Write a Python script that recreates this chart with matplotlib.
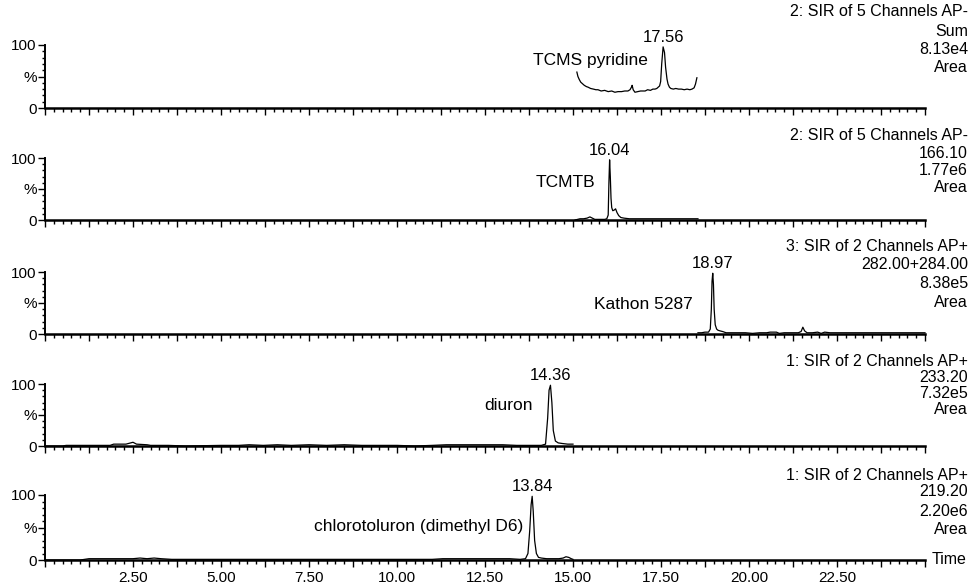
import matplotlib
matplotlib.use("Agg")
import matplotlib.pyplot as plt
from matplotlib.ticker import MultipleLocator, FixedLocator, FuncFormatter

plt.rcParams['font.family'] = ['Liberation Sans', 'DejaVu Sans']

# --- traces (time in min, intensity in %) ---
t_tcms = [15.11, 15.14, 15.18, 15.22, 15.26, 15.32, 15.38, 15.43, 15.50, 15.58,
          15.65, 15.71, 15.80, 15.90, 16.00, 16.10, 16.19, 16.28, 16.38, 16.47,
          16.56, 16.62, 16.66, 16.68, 16.71, 16.76, 16.84, 16.92, 17.00, 17.05,
          17.12, 17.20, 17.27, 17.33, 17.38, 17.42, 17.46, 17.49, 17.52, 17.56,
          17.60, 17.63, 17.67, 17.70, 17.74, 17.78, 17.85, 17.92, 18.00, 18.08,
          18.16, 18.24, 18.32, 18.38, 18.44, 18.48, 18.52]
i_tcms = [57, 50, 45, 41, 39, 36, 34, 33, 31, 30,
          29, 29, 27, 28, 26, 27, 25, 26, 26, 27,
          27, 29, 33, 36, 29, 25, 26, 27, 27, 27,
          29, 28, 30, 30, 31, 33, 35, 42, 70, 97,
          88, 65, 46, 38, 33, 31, 30, 31, 30, 30,
          29, 30, 29, 30, 32, 38, 48]

t_tcmtb = [15.06, 15.20, 15.30, 15.40, 15.48, 15.55, 15.62, 15.70, 15.80, 15.90,
           15.96, 16.00, 16.02, 16.04, 16.06, 16.08, 16.10, 16.13, 16.17, 16.21,
           16.25, 16.30, 16.36, 16.45, 16.60, 16.80, 17.00, 17.30, 17.60, 17.90,
           18.20, 18.55]
i_tcmtb = [0, 2, 2, 3, 5, 3, 1, 1, 1, 1,
           2, 8, 60, 97, 70, 35, 20, 15, 16, 18,
           12, 7, 4, 3, 2, 2, 2, 2, 2, 2,
           2, 2]

t_kathon = [18.55, 18.65, 18.75, 18.85, 18.90, 18.93, 18.95, 18.97, 18.99, 19.01,
            19.04, 19.08, 19.12, 19.18, 19.25, 19.35, 19.50, 19.70, 19.90, 20.10,
            20.30, 20.50, 20.60, 20.70, 20.78, 20.86, 21.00, 21.20, 21.40, 21.48,
            21.53, 21.58, 21.65, 21.80, 21.95, 22.05, 22.15, 22.30, 22.50, 23.00,
            23.50, 24.00, 24.50, 25.00]
i_kathon = [2, 2, 3, 3, 8, 40, 85, 98, 80, 40,
            15, 8, 6, 5, 4, 2, 2, 2, 2, 1,
            2, 2, 3, 3, 3, 1, 2, 2, 2, 4,
            11, 5, 2, 2, 3, 1, 3, 2, 2, 2,
            2, 2, 2, 2]

t_diuron = [0.00, 0.50, 0.60, 1.00, 1.50, 1.85, 1.95, 2.30, 2.50, 2.60,
            2.90, 3.00, 3.50, 4.00, 5.00, 5.50, 5.80, 6.20, 6.60, 7.00,
            7.50, 8.00, 8.50, 9.00, 9.50, 10.00, 10.50, 11.00, 11.40, 11.80,
            12.20, 12.60, 13.00, 13.40, 13.80, 14.10, 14.22, 14.28, 14.32, 14.36,
            14.40, 14.44, 14.50, 14.58, 14.70, 14.85, 15.00]
i_diuron = [0, 0, 1, 1, 1, 1, 3, 3, 6, 3,
            2, 1, 1, 0, 1, 1, 2, 1, 2, 1,
            2, 1, 2, 1, 1, 1, 0, 1, 2, 2,
            2, 2, 2, 1, 1, 1, 3, 45, 90, 98,
            70, 25, 8, 5, 4, 3, 3]

t_chloro = [0.00, 0.50, 1.00, 1.25, 1.50, 2.00, 2.50, 2.70, 2.90, 3.10,
            3.30, 3.60, 4.00, 5.00, 6.00, 7.00, 8.00, 9.00, 10.00, 10.50,
            11.00, 11.30, 11.70, 12.00, 12.40, 12.80, 13.20, 13.50, 13.65, 13.72,
            13.77, 13.81, 13.84, 13.87, 13.91, 13.96, 14.02, 14.10, 14.25, 14.45,
            14.60, 14.72, 14.80, 14.88, 14.95, 15.00]
i_chloro = [0, 0, 0, 2, 2, 2, 2, 3, 2, 3,
            2, 1, 1, 1, 1, 1, 1, 1, 1, 1,
            1, 2, 2, 2, 2, 2, 2, 1, 2, 10,
            45, 85, 98, 75, 30, 10, 4, 3, 2, 2,
            2, 3, 5, 4, 2, 1]

traces = [(t_tcms, i_tcms), (t_tcmtb, i_tcmtb), (t_kathon, i_kathon),
          (t_diuron, i_diuron), (t_chloro, i_chloro)]

peak_times = [17.56, 16.04, 18.97, 14.36, 13.84]
compounds = ["TCMS pyridine", "TCMTB", "Kathon 5287", "diuron",
             "chlorotoluron (dimethyl D6)"]
functions = ["2: SIR of 5 Channels AP-", "2: SIR of 5 Channels AP-",
             "3: SIR of 2 Channels AP+", "1: SIR of 2 Channels AP+",
             "1: SIR of 2 Channels AP+"]
masses = ["Sum", "166.10", "282.00+284.00", "233.20", "219.20"]
areas = ["8.13e4", "1.77e6", "8.38e5", "7.32e5", "2.20e6"]
time_labels = [2.5, 5.0, 7.5, 10.0, 12.5, 15.0, 17.5, 20.0, 22.5]

# --- layout (pixels of a 974x585 canvas) ---
W, H = 974, 585
panel_px = [(108, 45), (220, 158), (334, 272), (446, 384), (560, 495)]  # (0 level, 100 level)
header_px = [(12, 31, 50, 68), (135, 153, 170, 187), (246, 265, 283, 302),
             (362, 378, 394, 410), (475, 492, 511, 529)]
name_pos = [(17.13, 0.76), (15.63, 0.60), (18.41, 0.47), (13.86, 0.66), (13.58, 0.51)]
x0_px, x1_px = 45, 925

fig = plt.figure(figsize=(W / 100, H / 100), dpi=100)

for k in range(5):
    y0, y100 = panel_px[k]
    ax = fig.add_axes([x0_px / W, 1 - y0 / H, (x1_px - x0_px) / W, (y0 - y100) / H])
    t, inten = traces[k]
    ax.plot(t, inten, color='black', lw=0.9, clip_on=False)
    ax.set_xlim(0, 25)
    ax.set_ylim(0, 100)

    for s in ['top', 'right']:
        ax.spines[s].set_visible(False)
    ax.spines['left'].set_linewidth(1.4)
    ax.spines['bottom'].set_linewidth(1.8)

    ax.xaxis.set_major_locator(MultipleLocator(1.25))
    ax.xaxis.set_minor_locator(MultipleLocator(0.25))
    ax.yaxis.set_major_locator(FixedLocator([0, 50, 100]))
    ax.yaxis.set_minor_locator(MultipleLocator(10))
    ax.set_yticklabels(['0', '%', '100'])
    ax.tick_params(axis='x', which='major', length=5, width=1, direction='out')
    ax.tick_params(axis='x', which='minor', length=3, width=1, direction='out')
    ax.tick_params(axis='y', which='major', length=5, width=1, pad=1, labelsize=11)
    ax.tick_params(axis='y', which='minor', length=2.5, width=1)

    if k == 4:
        ax.xaxis.set_major_formatter(FuncFormatter(
            lambda v, p: f"{v:.2f}" if any(abs(v - lab) < 1e-6 for lab in time_labels) else ""))
        ax.tick_params(axis='x', which='major', labelsize=11, pad=3)
        ax.text(1.008, 0.0, "Time", transform=ax.transAxes, fontsize=11.5,
                ha='left', va='center')
    else:
        ax.set_xticklabels([])

    ax.annotate(f"{peak_times[k]:.2f}", xy=(peak_times[k], max(inten)),
                xytext=(0, 1.5), textcoords='offset points',
                ha='center', va='bottom', fontsize=12, annotation_clip=False)
    nx, ny = name_pos[k]
    ax.text(nx, ny, compounds[k], transform=ax.get_xaxis_transform(),
            ha='right', va='center', fontsize=12.5)

    lines = [functions[k], masses[k], areas[k], "Area"]
    for txt, py in zip(lines, header_px[k]):
        fig.text(968 / W, 1 - py / H, txt, ha='right', va='center', fontsize=11.5)

fig.savefig('out.png', dpi=100)
